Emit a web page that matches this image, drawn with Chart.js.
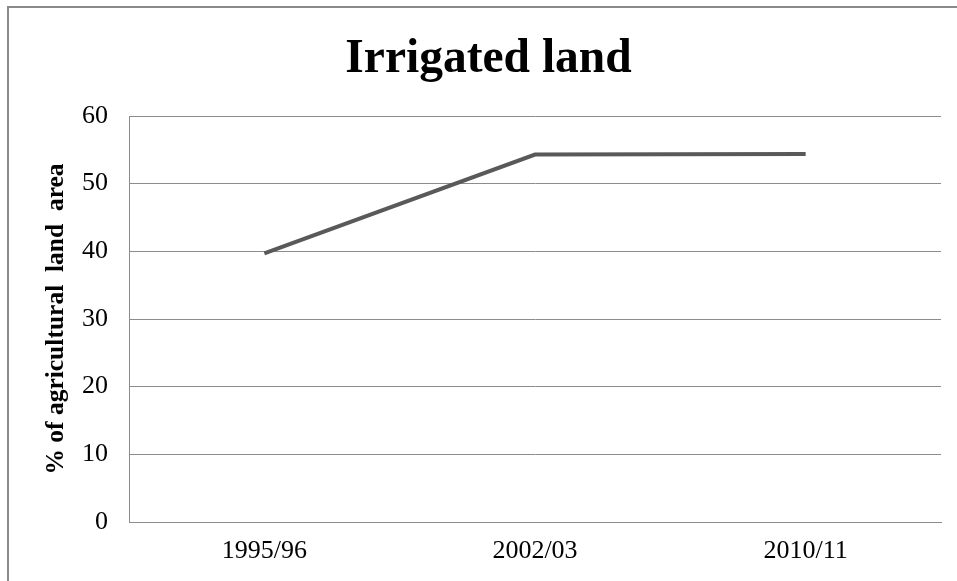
<!DOCTYPE html>
<html>
<head>
<meta charset="utf-8">
<script src="https://cdn.jsdelivr.net/npm/chart.js@4"></script>
<style>
  html, body { margin: 0; padding: 0; background: #fff; overflow: hidden; }
  #wrap { position: relative; width: 957px; height: 581px; }
  #frame { position: absolute; left: 7px; top: 6px; width: 1000px; height: 1000px; border: 2px solid #8a8a8a; box-sizing: border-box; }
  canvas { position: absolute; left: 0; top: 0; }
</style>
</head>
<body>
<div id="wrap">
  <div id="frame"></div>
  <canvas id="c" width="957" height="581"></canvas>
</div>
<script>
const categories = ["1995/96", "2002/03", "2010/11"];
const irrigatedShare = [39.7, 54.3, 54.4];
const yTicks = [0, 10, 20, 30, 40, 50, 60];

const serif = "'Liberation Serif', 'Times New Roman', serif";
const gridColor = "#8c8c8c";

new Chart(document.getElementById("c"), {
  type: "line",
  data: {
    labels: categories,
    datasets: [{
      label: "Irrigated land",
      data: irrigatedShare,
      borderColor: "#595959",
      backgroundColor: "#595959",
      borderWidth: 4,
      pointRadius: 0,
      tension: 0,
      fill: false
    }]
  },
  options: {
    responsive: false,
    animation: false,
    devicePixelRatio: 1,
    layout: { padding: { left: 36, right: 16, top: 0, bottom: 0 } },
    plugins: {
      legend: { display: false },
      tooltip: { enabled: false },
      title: {
        display: true,
        text: "Irrigated land",
        color: "#000",
        font: { family: serif, size: 47.5, weight: "bold" },
        padding: { top: 31, bottom: 28 }
      }
    },
    scales: {
      x: {
        offset: true,
        grid: { display: false, drawTicks: false },
        border: { display: true, color: gridColor, width: 1 },
        ticks: { color: "#000", font: { family: serif, size: 26 }, padding: 14, maxRotation: 0 },
        afterFit: s => { s.height = 59; }
      },
      y: {
        min: 0, max: 60,
        afterBuildTicks: s => { s.ticks = yTicks.map(v => ({ value: v })); },
        grid: { color: gridColor, lineWidth: 1, drawTicks: false },
        border: { display: true, color: gridColor, width: 1 },
        ticks: { color: "#000", font: { family: serif, size: 26 }, padding: 21 },
        title: {
          display: true,
          text: "% of agricultural  land  area",
          color: "#000",
          font: { family: serif, size: 25.5, weight: "bold" },
          padding: { top: 5, bottom: 0 }
        },
        afterFit: s => { s.width = 93; }
      }
    }
  }
});
</script>
</body>
</html>
